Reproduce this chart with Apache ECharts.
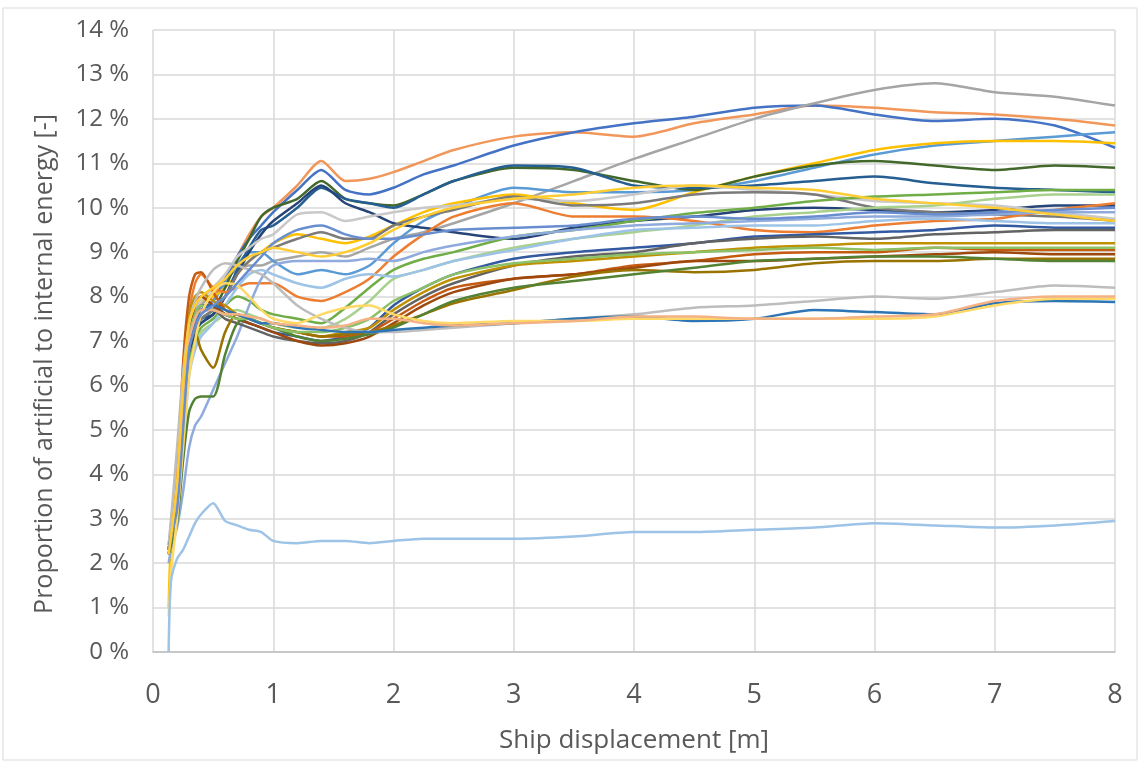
<!DOCTYPE html>
<html>
<head>
<meta charset="utf-8">
<script src="https://cdn.jsdelivr.net/npm/echarts@6/dist/echarts.min.js"></script>
<style>
html,body{margin:0;padding:0;background:#fff;}
#chart{width:1140px;height:762px;}
</style>
</head>
<body>
<div id="chart"></div>
<script>
// Shared x positions (ship displacement, m)
const xValues = [0.13,0.15,0.2,0.25,0.3,0.35,0.4,0.5,0.6,0.7,0.8,0.9,1.0,1.2,1.4,1.6,1.8,2.0,2.25,2.5,3.0,3.5,4.0,4.5,5.0,5.5,6.0,6.5,7.0,7.5,8.0];

// Series values (%), one array per simulation run
const run01 = [2.3,2.6,3.1,5.2,7.0,7.6,7.9,8.0,8.4,8.9,9.4,9.8,10.0,10.5,11.05,10.6,10.65,10.8,11.05,11.3,11.6,11.7,11.6,11.9,12.1,12.3,12.25,12.15,12.1,12.0,11.85];
const run02 = [2.3,2.6,3.1,5.0,6.8,7.4,7.7,7.9,8.4,8.9,9.3,9.6,9.9,10.4,10.85,10.4,10.3,10.45,10.75,10.95,11.4,11.7,11.9,12.05,12.25,12.3,12.1,11.95,12.0,11.85,11.35];
const run03 = [2.4,2.8,4.0,6.0,7.2,7.6,7.8,8.1,8.4,8.6,8.7,8.7,8.8,8.9,9.0,8.9,9.1,9.3,9.45,9.65,10.1,10.6,11.1,11.55,12.0,12.35,12.65,12.8,12.6,12.5,12.3];
const run04 = [2.3,2.6,3.1,5.0,6.9,7.4,7.7,7.9,8.3,8.7,9.0,9.0,8.8,8.5,8.6,8.5,8.7,9.2,9.7,10.0,10.45,10.35,10.35,10.4,10.6,10.9,11.2,11.4,11.5,11.6,11.7];
const run05 = [1.0,2.4,3.2,5.2,7.0,7.6,7.9,8.0,8.2,8.5,8.8,9.0,9.2,9.4,9.3,9.2,9.35,9.6,9.9,10.1,10.3,10.1,9.95,10.35,10.7,11.0,11.3,11.45,11.5,11.5,11.45];
const run06 = [2.3,2.5,3.0,4.8,6.7,7.2,7.5,7.7,8.2,8.8,9.3,9.8,10.0,10.2,10.6,10.2,10.1,10.05,10.3,10.6,10.9,10.85,10.6,10.4,10.7,10.95,11.05,10.95,10.85,10.95,10.9];
const run07 = [2.3,2.5,3.0,4.9,6.8,7.3,7.5,7.6,8.0,8.6,9.1,9.5,9.6,10.0,10.45,10.2,10.1,10.0,10.3,10.6,10.95,10.9,10.5,10.45,10.5,10.6,10.7,10.55,10.45,10.4,10.35];
const run08 = [2.3,2.5,3.0,4.7,6.6,7.2,7.4,7.6,8.0,8.5,9.0,9.4,9.7,10.1,10.5,10.1,9.9,9.65,9.55,9.45,9.3,9.55,9.7,9.8,9.95,10.0,9.95,9.9,9.95,10.05,10.05];
const run09 = [2.4,2.9,4.2,6.2,7.3,7.7,7.9,8.2,8.5,8.9,9.1,9.3,9.4,9.85,9.9,9.7,9.8,9.9,10.0,10.05,10.2,10.15,10.3,10.5,10.4,10.3,10.15,10.1,10.05,9.9,9.75];
const run10 = [2.3,2.6,3.2,5.0,6.8,7.3,7.5,7.7,8.0,8.5,8.8,9.0,9.1,9.3,9.45,9.3,9.3,9.6,9.8,9.95,10.25,10.05,10.1,10.3,10.35,10.3,10.0,9.9,9.85,9.8,9.7];
const run11 = [2.3,2.6,3.5,6.0,7.6,8.3,8.5,8.2,8.1,8.2,8.3,8.3,8.3,8.0,7.9,8.1,8.4,8.9,9.4,9.8,10.1,9.8,9.8,9.7,9.5,9.45,9.6,9.7,9.75,9.95,10.1];
const run12 = [2.2,2.5,3.0,4.7,6.5,7.0,7.3,7.5,7.8,8.0,7.9,7.7,7.6,7.5,7.4,7.75,8.2,8.6,8.85,9.0,9.35,9.5,9.7,9.88,10.0,10.15,10.25,10.3,10.35,10.4,10.4];
const run13 = [2.2,2.5,3.0,4.6,6.4,6.9,7.2,7.4,7.6,7.7,7.6,7.5,7.4,7.3,7.3,7.5,7.9,8.4,8.6,8.8,9.1,9.3,9.45,9.6,9.8,9.9,10.0,10.05,10.2,10.3,10.3];
const run14 = [2.0,2.3,2.8,3.6,4.6,5.1,5.3,5.9,6.5,7.1,7.8,8.4,8.7,8.8,8.8,8.8,8.85,8.8,9.0,9.15,9.35,9.5,9.6,9.65,9.7,9.75,9.8,9.8,9.85,9.9,9.9];
const run15 = [2.2,2.5,3.0,4.5,6.2,6.8,7.1,7.4,7.8,8.2,8.5,8.6,8.5,8.3,8.2,8.4,8.5,8.45,8.6,8.8,9.05,9.3,9.5,9.55,9.6,9.6,9.7,9.75,9.7,9.65,9.65];
const run16 = [2.3,2.6,3.2,5.2,7.0,7.6,7.8,7.8,7.6,7.5,7.4,7.3,7.2,7.1,7.0,7.1,7.3,7.8,8.2,8.5,8.85,9.0,9.1,9.2,9.35,9.4,9.45,9.5,9.6,9.55,9.55];
const run17 = [2.3,2.6,3.2,5.0,6.9,7.5,7.7,7.7,7.5,7.4,7.3,7.2,7.1,7.0,6.95,7.0,7.2,7.6,8.0,8.3,8.7,8.9,9.0,9.2,9.3,9.35,9.3,9.4,9.45,9.5,9.5];
const run18 = [2.2,2.5,3.5,6.0,7.6,8.0,8.1,7.9,7.8,7.6,7.5,7.4,7.3,7.2,7.1,7.2,7.3,7.7,8.1,8.4,8.7,8.8,8.9,9.0,9.1,9.15,9.2,9.2,9.2,9.2,9.2];
const run19 = [2.3,2.7,3.8,6.5,8.0,8.5,8.55,8.1,7.7,7.6,7.5,7.4,7.3,7.2,7.1,7.1,7.2,7.5,7.9,8.2,8.4,8.5,8.7,8.8,8.95,9.0,9.0,9.1,9.05,9.05,9.05];
const run20 = [2.3,2.6,3.3,5.4,7.2,7.8,8.0,7.8,7.6,7.5,7.4,7.3,7.2,7.0,6.9,6.95,7.1,7.4,7.8,8.1,8.4,8.5,8.65,8.8,8.8,8.85,8.9,8.95,9.0,8.95,8.95];
const run21 = [2.2,2.5,3.2,5.2,6.9,7.2,6.8,6.4,7.2,7.6,7.5,7.4,7.3,7.2,7.1,7.15,7.2,7.35,7.6,7.85,8.15,8.45,8.6,8.55,8.6,8.75,8.8,8.8,8.85,8.85,8.85];
const run22 = [2.2,2.4,2.9,4.3,5.4,5.7,5.75,5.75,6.7,7.4,7.5,7.4,7.3,7.1,7.0,7.05,7.15,7.3,7.6,7.9,8.2,8.35,8.5,8.65,8.8,8.85,8.9,8.9,8.85,8.8,8.8];
const run23 = [2.3,2.6,3.3,5.3,7.1,7.6,7.8,7.7,7.6,7.5,7.5,7.4,7.3,7.2,7.2,7.3,7.5,7.9,8.2,8.5,8.75,8.85,8.95,9.0,9.05,9.1,9.05,9.1,9.1,9.1,9.1];
const run24 = [2.4,3.0,4.6,6.3,7.4,7.9,8.2,8.6,8.75,8.7,8.6,8.5,8.3,7.8,7.5,7.3,7.2,7.2,7.25,7.3,7.4,7.5,7.6,7.75,7.8,7.9,8.0,7.95,8.1,8.25,8.2];
const run25 = [2.3,2.6,3.2,5.1,6.9,7.4,7.7,7.8,7.7,7.6,7.5,7.4,7.4,7.3,7.25,7.2,7.2,7.25,7.3,7.35,7.4,7.5,7.55,7.45,7.5,7.7,7.65,7.6,7.85,7.9,7.88];
const run26 = [0.8,1.8,3.0,4.6,6.2,7.0,7.6,8.1,8.3,8.25,8.0,7.7,7.5,7.4,7.6,7.75,7.8,7.6,7.45,7.4,7.45,7.45,7.5,7.5,7.5,7.5,7.5,7.55,7.8,7.95,7.95];
const run27 = [2.3,2.6,3.3,5.3,7.0,7.5,7.7,7.7,7.6,7.6,7.55,7.5,7.4,7.35,7.3,7.35,7.5,7.5,7.4,7.35,7.4,7.45,7.55,7.55,7.5,7.5,7.55,7.6,7.9,8.0,8.0];
const run28 = [0.0,1.6,2.1,2.3,2.6,2.9,3.1,3.35,2.95,2.85,2.75,2.7,2.5,2.45,2.5,2.5,2.45,2.5,2.55,2.55,2.55,2.6,2.7,2.7,2.75,2.8,2.9,2.85,2.8,2.85,2.95];
const run29 = [2.3,2.6,3.2,5.0,6.8,7.3,7.6,7.8,8.0,8.3,8.6,8.9,9.2,9.5,9.6,9.4,9.3,9.3,9.4,9.5,9.55,9.6,9.75,9.8,9.75,9.8,9.9,9.85,9.9,9.95,10.0];
const run30 = [2.2,2.6,3.8,6.0,7.4,7.8,8.0,8.2,8.4,8.7,8.9,9.0,9.1,9.0,8.9,9.0,9.2,9.5,9.8,10.0,10.2,10.3,10.45,10.5,10.45,10.4,10.2,10.1,10.0,9.85,9.7];

const runs = [run01,run02,run03,run04,run05,run06,run07,run08,run09,run10,run11,run12,run13,run14,run15,run16,run17,run18,run19,run20,run21,run22,run23,run24,run25,run26,run27,run28,run29,run30];
const colors = ['#F1975A','#4472C4','#A5A5A5','#5B9BD5','#FFC000','#43682B','#255E91','#264478','#C9C9C9','#7B7B7B','#ED7D31','#70AD47','#A9D18E','#8FAADC','#9DC3E6','#335AA1','#636363','#BF9000','#C55A11','#9E480E','#997300','#548235','#8CC168','#BDBDBD','#2E75B6','#FFD966','#F4B183','#9DC3E6','#698ED0','#FFCD33'];

const yTicks = {min:0, max:14, interval:1};
const xTicks = {min:0, max:8, interval:1};
const yTitle = 'Proportion of artificial to internal energy [-]';
const xTitle = 'Ship displacement [m]';

function render() {
  const series = runs.map((vals, i) => ({
    type: 'line',
    name: 'Run ' + (i + 1),
    data: xValues.map((x, k) => [x, vals[k]]),
    showSymbol: false,
    symbol: 'none',
    smooth: 0.25,
    lineStyle: { width: 2.5, color: colors[i] },
    itemStyle: { color: colors[i] }
  }));

  const chart = echarts.init(document.getElementById('chart'), null, {renderer: 'canvas'});
  chart.setOption({
    animation: false,
    backgroundColor: '#ffffff',
    graphic: [{
      type: 'rect', shape: {x: 3, y: 8, width: 1134, height: 752},
      style: {fill: 'none', stroke: '#D9D9D9', lineWidth: 1}, silent: true
    }, {
      type: 'text', x: 45, y: 364, rotation: Math.PI / 2,
      style: {text: yTitle, fill: '#595959', font: '25px "Open Sans"', textAlign: 'center', textVerticalAlign: 'middle'},
      silent: true
    }],
    grid: {left: 153, right: 25, top: 30, bottom: 110},
    xAxis: {
      type: 'value', min: xTicks.min, max: xTicks.max, interval: xTicks.interval,
      name: xTitle, nameLocation: 'middle', nameGap: 76,
      nameTextStyle: {fontFamily: 'Open Sans', fontSize: 26, color: '#595959'},
      axisLine: {show: true, lineStyle: {color: '#BFBFBF', width: 1.5}},
      axisTick: {show: false},
      axisLabel: {fontFamily: '"Liberation Sans Narrow", "Open Sans"', fontSize: 27, color: '#595959', margin: 30},
      splitLine: {show: true, lineStyle: {color: '#D9D9D9', width: 1.5}}
    },
    yAxis: {
      type: 'value', min: yTicks.min, max: yTicks.max, interval: yTicks.interval,
      axisLine: {show: false},
      axisTick: {show: false},
      axisLabel: {fontFamily: 'Open Sans', fontSize: 24, color: '#595959', margin: 24, formatter: '{value} %'},
      splitLine: {show: true, lineStyle: {color: '#D9D9D9', width: 1.5}}
    },
    series: series
  });
}

let done = false;
function go() { if (!done) { done = true; render(); } }
if (document.fonts && document.fonts.load) {
  Promise.all([
    document.fonts.load('25px "Open Sans"'),
    document.fonts.load('27px "Liberation Sans Narrow"')
  ]).then(go, go);
  setTimeout(go, 1500);
} else {
  go();
}
</script>
</body>
</html>
